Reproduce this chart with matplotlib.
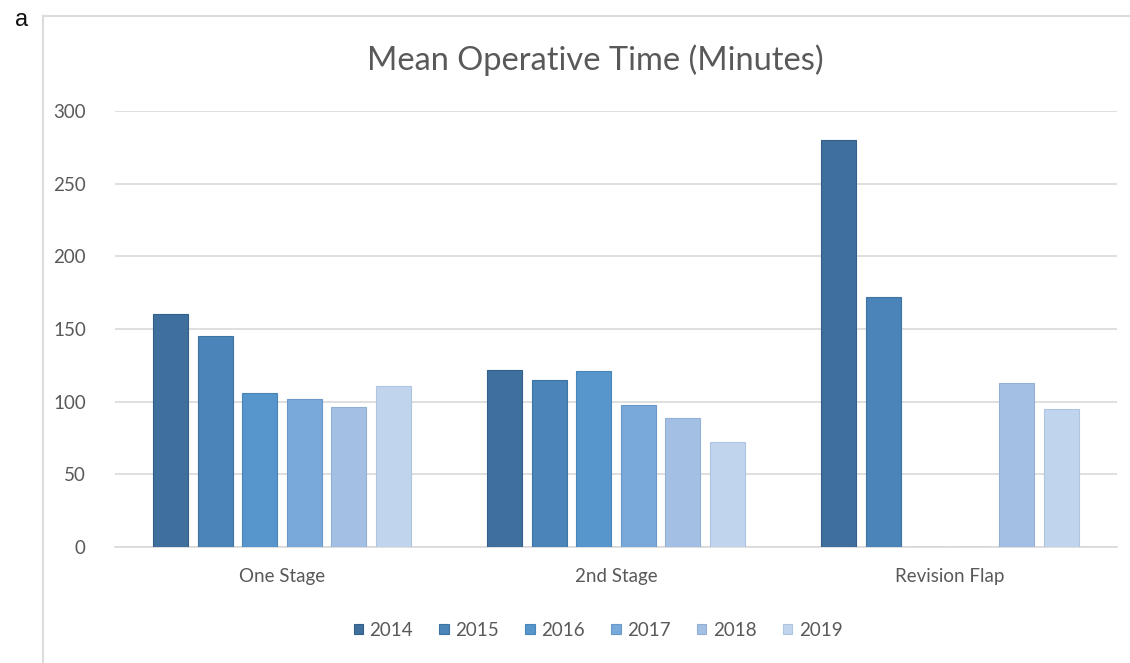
import numpy as np
import matplotlib
matplotlib.use("Agg")
import matplotlib.pyplot as plt
from matplotlib.lines import Line2D

plt.rcParams['font.family'] = ['Lato', 'DejaVu Sans']

categories = ["One Stage", "2nd Stage", "Revision Flap"]
years = ["2014", "2015", "2016", "2017", "2018", "2019"]
# mean operative time per year, one list per category
one_stage = [160, 145, 106, 102, 96, 111]
second_stage = [122, 115, 121, 98, 89, 72]
revision_flap = [280, 172, 0, 0, 113, 95]
colors = ["#3f6f9d", "#4a84b8", "#5696cd", "#79a8db", "#a3c0e4", "#c1d4ed"]
edges = ["#345f88", "#3f73a3", "#4a85b8", "#6a98c8", "#92b0d6", "#afc4e0"]

values = np.array([one_stage, second_stage, revision_flap])

fig = plt.figure(figsize=(11.3, 6.63), dpi=100)
ax = fig.add_axes([115/1130, 1-547/663, 1002/1130, 436/663])

# chart frame: only top and left edges show
fx, fy = 43/1130, 1-16/663
fig.add_artist(Line2D([fx, 1], [fy, fy], transform=fig.transFigure, color="#dcdcdc", linewidth=1.5))
fig.add_artist(Line2D([fx, fx], [fy, 0], transform=fig.transFigure, color="#dcdcdc", linewidth=1.5))
fig.text(15/1130, 1-20/663, "a", fontsize=17, color="#111111", va="center",
         family=['Liberation Sans', 'DejaVu Sans'])

x = np.arange(len(categories))
step = 0.1332
width = 0.104
for i, yr in enumerate(years):
    ax.bar(x + (i - 2.5)*step, values[:, i], width, color=colors[i], edgecolor=edges[i],
           linewidth=0.8, label=yr, zorder=3)

ax.set_xlim(-0.5, 2.5)
ax.set_ylim(0, 300)
ax.set_yticks(np.arange(0, 301, 50))
ax.set_xticks(x)
ax.set_xticklabels(categories)
ax.grid(axis='y', color="#d9d9d9", linewidth=1.2, zorder=0)
for s in ["top", "right", "left"]:
    ax.spines[s].set_visible(False)
ax.spines["bottom"].set_color("#d9d9d9")
ax.spines["bottom"].set_linewidth(1.2)
ax.tick_params(axis='both', length=0, colors="#595959", labelsize=13.5)
ax.tick_params(axis='y', pad=21)
ax.tick_params(axis='x', pad=15)

fig.text(595/1130, 1-60/663, "Mean Operative Time (Minutes)", fontsize=23.5, color="#595959",
         ha="center", va="center")

handles, labels = ax.get_legend_handles_labels()
fig.legend(handles, labels, loc="center", bbox_to_anchor=(598/1130, 1-630/663), ncol=6,
           frameon=False, fontsize=13.5, labelcolor="#595959", handlelength=0.5, handleheight=0.5,
           handletextpad=0.35, columnspacing=1.4)

fig.savefig("out.png", dpi=100)
